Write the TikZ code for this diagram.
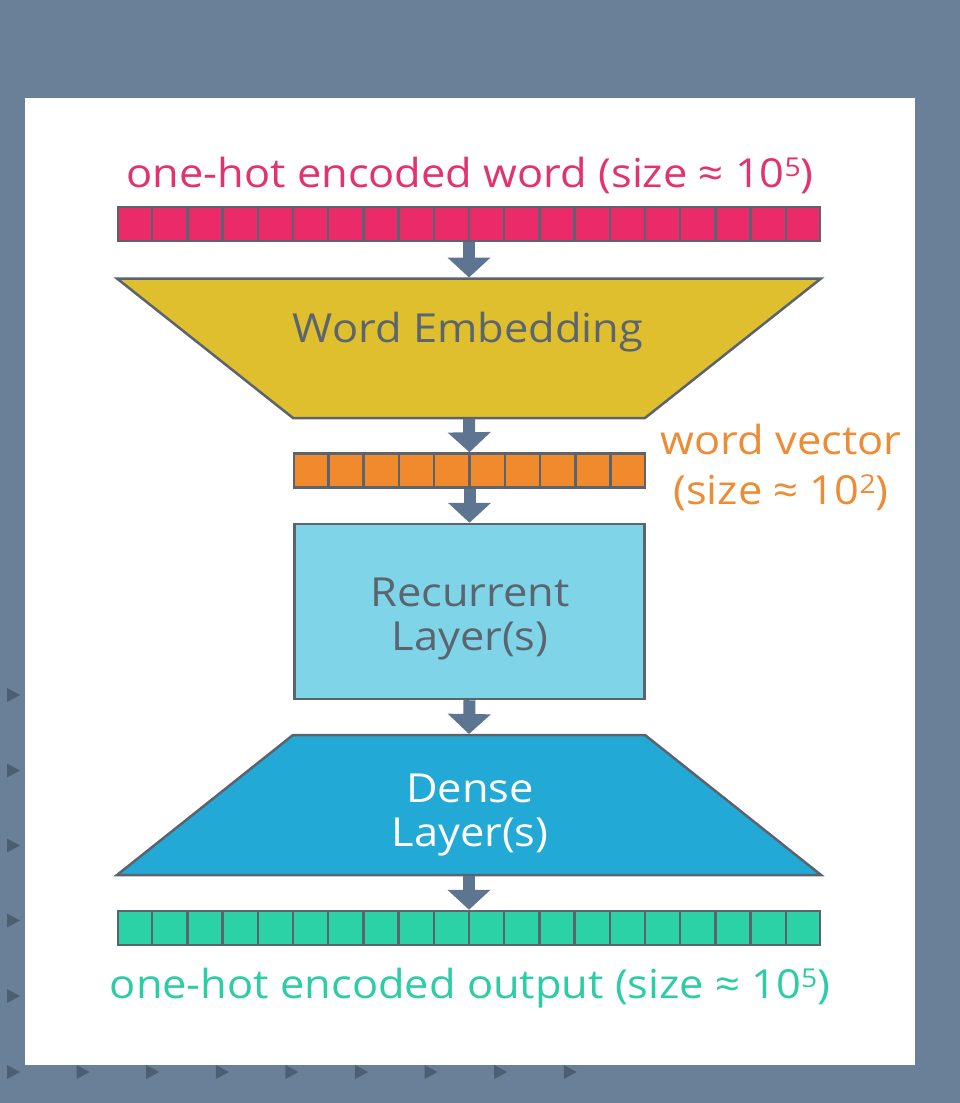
\documentclass[tikz,border=0pt]{standalone}
\usepackage{fontspec}
\setmainfont[FakeStretch=1.085]{Open Sans}
\usetikzlibrary{arrows.meta,calc}
\definecolor{bgc}{HTML}{6A8099}
\definecolor{markc}{HTML}{4C5E72}
\definecolor{edgec}{HTML}{5B646E}
\definecolor{arrowc}{HTML}{5E7592}
\definecolor{arrowedge}{HTML}{52657A}
\definecolor{pinkc}{HTML}{EB2A6A}
\definecolor{pinktext}{HTML}{E2336D}
\definecolor{yellowc}{HTML}{E0BF2E}
\definecolor{orangec}{HTML}{F08A2D}
\definecolor{orangetext}{HTML}{EE8B35}
\definecolor{lightbluec}{HTML}{80D4E7}
\definecolor{densec}{HTML}{22A9D6}
\definecolor{greenc}{HTML}{2BD2A6}
\definecolor{greentext}{HTML}{2CCDA5}
\definecolor{graytext}{HTML}{5B6570}
\newcommand{\supdigit}[1]{\raisebox{11pt}{\fontsize{26}{26}\selectfont #1}}
\tikzset{
  bigfont/.style={font=\fontsize{40}{43.5}\selectfont},
  barbox/.style={draw=edgec, line width=2.5pt, inner sep=0pt, minimum height=34pt},
  divider/.style={draw=edgec, line width=2.5pt},
  shapeedge/.style={draw=edgec, line width=2.5pt, line join=miter},
  flow/.style={line width=12pt, draw=arrowc, -{Triangle[width=42pt,length=20pt,fill=arrowc]}, shorten >=0pt},
  lbl/.style={bigfont, inner sep=0pt},
}
\begin{document}
\begin{tikzpicture}[x=1pt,y=-1pt]
\useasboundingbox (0,0) rectangle (960,1103);
\fill[bgc] (0,0) rectangle (960,1103);
\fill[white] (25,98) rectangle (915,1065);
% background markers
\foreach \yy in {695,770.5,845.5,920.5,996,1072}
  \fill[markc] (7,\yy-7) -- (20,\yy) -- (7,\yy+7) -- cycle;
\foreach \xx in {76.6,146.2,215.8,285.4,355,424.6,494.2,563.8}
  \fill[markc] (\xx,1065) -- (\xx+13,1072) -- (\xx,1079) -- cycle;

% title
\node[lbl, text=pinktext, anchor=base] (intitle) at (470,187.5) {one-hot encoded word (size ≈ 10\supdigit{5})};

% input bar
\node[barbox, fill=pinkc, minimum width=702pt] (inbar) at (469,224) {};
\foreach \i in {1,...,19} \draw[divider] (117+\i*35.2,207) -- (117+\i*35.2,241);

% word embedding trapezoid
\draw[shapeedge, fill=yellowc] (117,278.5) -- (821,278.5) -- (645,418) -- (293,418) -- cycle;
\coordinate (embtop) at (469,277.5);
\coordinate (embbot) at (469,419);
\node[lbl, text=graytext, anchor=base] (emb) at (468,342) {Word Embedding};

% word vector bar
\node[barbox, fill=orangec, minimum width=351pt] (vecbar) at (469.5,470.5) {};
\foreach \i in {1,...,9} \draw[divider] (293+\i*35.3,454) -- (293+\i*35.3,487);
\node[lbl, text=orangetext, align=center] (veclabel) at (781,467.5) {word vector\\[7pt](size ≈ 10\supdigit{2})};

% recurrent layer
\node[draw=edgec, line width=2.5pt, fill=lightbluec, minimum width=350pt, minimum height=175pt, inner sep=0pt] (rec) at (469.5,611.5) {};
\node[lbl, text=graytext, align=center] (reclabel) at (470,619) {Recurrent\\Layer(s)};

% dense layer trapezoid
\draw[shapeedge, fill=densec] (293,735) -- (645,735) -- (821,875) -- (117,875) -- cycle;
\coordinate (dentop) at (469,734);
\coordinate (denbot) at (469,876);
\node[lbl, text=white, align=center] (denlabel) at (470,815) {Dense\\Layer(s)};

% output bar
\node[barbox, fill=greenc, minimum width=702pt] (outbar) at (469,928) {};
\foreach \i in {1,...,19} \draw[divider] (117+\i*35.2,911) -- (117+\i*35.2,945);
\node[lbl, text=greentext, anchor=base] (outtitle) at (470,998) {one-hot encoded output (size ≈ 10\supdigit{5})};

% arrows
\draw[flow] (inbar.south) -- (embtop);
\draw[flow] (embbot) -- (vecbar.north);
\draw[flow] (vecbar.south) -- (rec.north);
\draw[flow] (rec.south) -- (dentop);
\draw[flow] (denbot) -- (outbar.north);
\end{tikzpicture}
\end{document}
